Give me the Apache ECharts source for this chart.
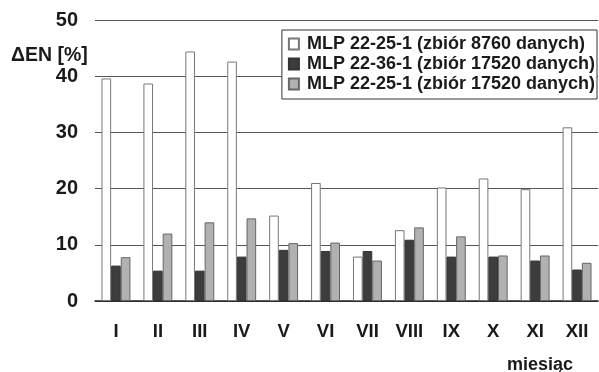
<!DOCTYPE html>
<html><head><meta charset="utf-8">
<script src="https://cdn.jsdelivr.net/npm/echarts@6/dist/echarts.min.js"></script>
<style>html,body{margin:0;padding:0;background:#fff}#c{width:599px;height:372px}</style>
</head><body><div id="c"></div>
<script>
const months = ['I','II','III','IV','V','VI','VII','VIII','IX','X','XI','XII'];
const seriesNames = ['MLP 22-25-1 (zbiór 8760 danych)','MLP 22-36-1 (zbiór 17520 danych)','MLP 22-25-1 (zbiór 17520 danych)'];
const mlp2225_8760 = [39.6, 38.7, 44.4, 42.6, 15.2, 21.0, 7.9, 12.6, 20.2, 21.8, 19.9, 30.9];
const mlp2236_17520 = [6.3, 5.4, 5.4, 7.9, 9.1, 8.9, 8.9, 10.9, 7.9, 7.9, 7.2, 5.6];
const mlp2225_17520 = [7.8, 12.0, 14.0, 14.7, 10.3, 10.4, 7.2, 13.1, 11.5, 8.1, 8.1, 6.8];
const yTicks = [0, 10, 20, 30, 40, 50];
const yName = 'ΔEN [%]';
const xName = 'miesiąc';

const FONT = 'Liberation Sans, Arial, sans-serif';
const TXT = '#1a1a1a';
const chart = echarts.init(document.getElementById('c'), null, {renderer:'canvas'});
chart.setOption({
  animation: false,
  backgroundColor: '#fff',
  grid: {left: 95, right: 1, top: 20, bottom: 71},
  legend: {
    orient: 'vertical', top: 30, right: 2,
    backgroundColor: '#fff', borderColor: '#333', borderWidth: 1,
    padding: [4, 2, 5, 6], itemWidth: 10, itemHeight: 11, itemGap: 0,
    icon: 'rect',
    textStyle: {fontFamily: FONT, fontWeight: 'bold', fontSize: 18, lineHeight: 20, color: TXT, padding:[0,0,0,3]},
    data: seriesNames
  },
  xAxis: {
    type: 'category', data: months,
    axisTick: {show: false},
    axisLine: {lineStyle: {color: '#222', width: 1.5}},
    axisLabel: {fontFamily: FONT, fontWeight: 'bold', fontSize: 18.5, color: TXT, margin: 21}
  },
  yAxis: {
    type: 'value', min: yTicks[0], max: yTicks[yTicks.length-1], interval: 10,
    axisLine: {show: false}, axisTick: {show: false},
    splitLine: {lineStyle: {color: '#555', width: 1}},
    axisLabel: {fontFamily: FONT, fontWeight: 'bold', fontSize: 20, color: TXT, margin: 17, padding: [3, 0, 0, 0]}
  },
  graphic: [
    {type: 'text', left: 11, top: 46, style: {text: yName, fontFamily: FONT, fontWeight: 'bold', fontSize: 19.5, fill: TXT}},
    {type: 'text', left: 507, top: 356, style: {text: xName, fontFamily: FONT, fontWeight: 'bold', fontSize: 18, fill: TXT}}
  ],
  series: [
    {name: seriesNames[0], type: 'bar', data: mlp2225_8760, barGap: '0%', barCategoryGap: '31%',
     itemStyle: {color: '#ffffff', borderColor: '#777', borderWidth: 1}},
    {name: seriesNames[1], type: 'bar', data: mlp2236_17520,
     itemStyle: {color: '#3d3d3d', borderColor: '#333', borderWidth: 1}},
    {name: seriesNames[2], type: 'bar', data: mlp2225_17520,
     itemStyle: {color: '#b1b1b3', borderColor: '#666', borderWidth: 1}}
  ]
});
</script></body></html>
